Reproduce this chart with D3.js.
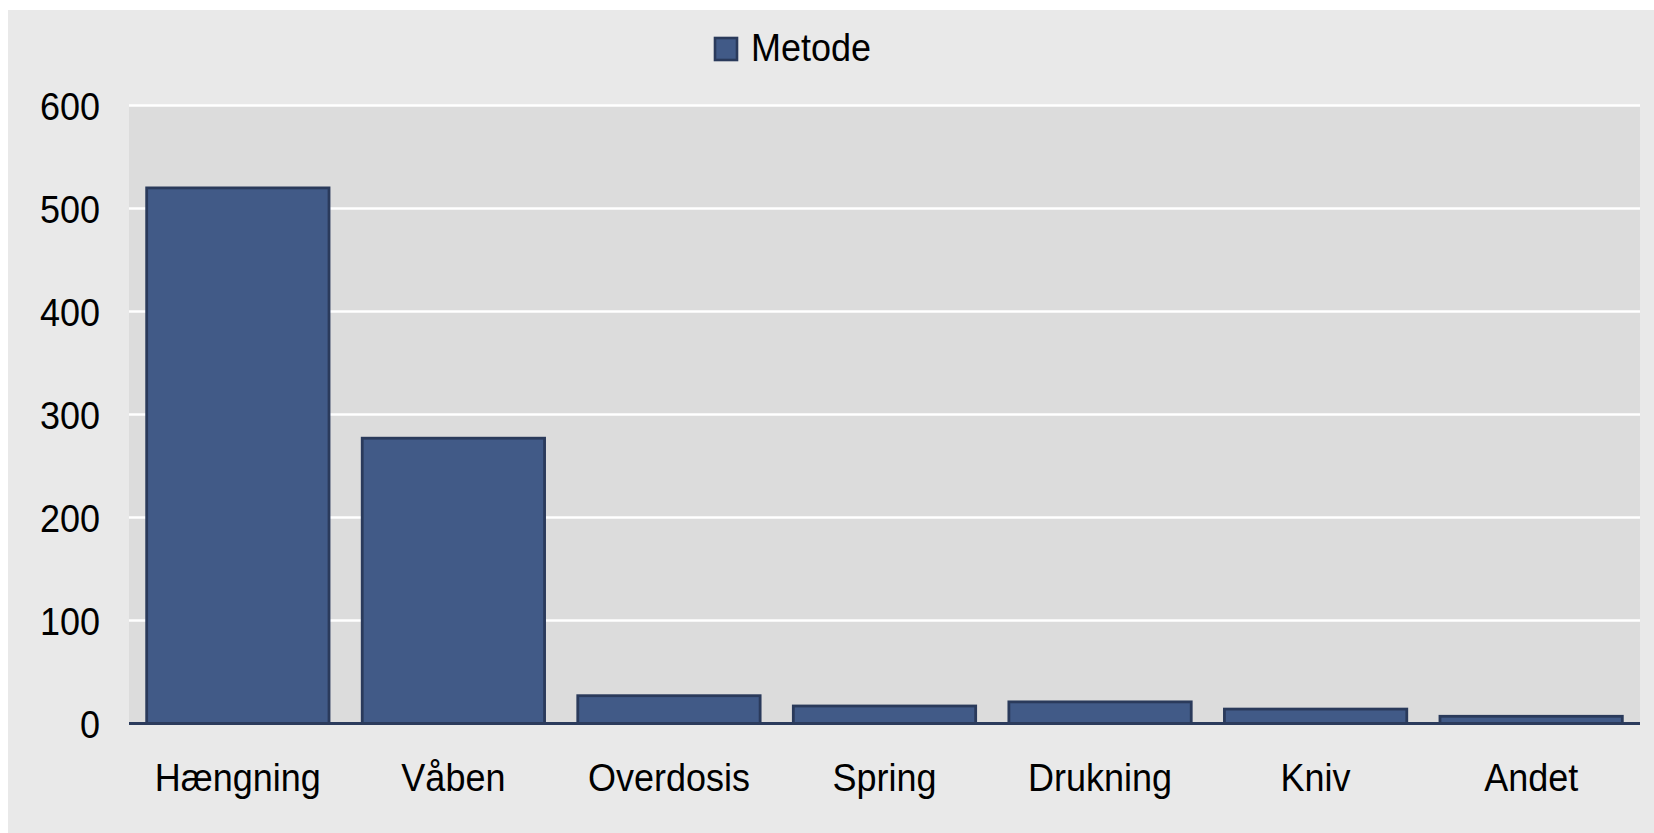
<!DOCTYPE html>
<html>
<head>
<meta charset="utf-8">
<script src="https://cdn.jsdelivr.net/npm/d3@7"></script>
<style>
  html, body { margin: 0; padding: 0; background: #ffffff; }
  svg { display: block; }
  text { font-family: "Liberation Sans", Arial, sans-serif; fill: #000; }
</style>
</head>
<body>
<svg id="chart" width="1654" height="833"></svg>
<script>
const categories = ["Hængning", "Våben", "Overdosis", "Spring", "Drukning", "Kniv", "Andet"];
const values = [520, 277, 27, 17, 21, 14, 7];
const yTicks = [0, 100, 200, 300, 400, 500, 600];
const seriesName = "Metode";

const W = 1654, H = 833;
const plot = { left: 129, right: 1640, top: 105.5, bottom: 723.5 };
const stretch = 1.08;
const svg = d3.select("#chart");

// outer panel
svg.append("rect").attr("x", 8).attr("y", 10).attr("width", W - 8).attr("height", H - 10).attr("fill", "#e9e9e9");
// plot area
svg.append("rect").attr("x", plot.left).attr("y", plot.top)
  .attr("width", plot.right - plot.left).attr("height", plot.bottom - plot.top).attr("fill", "#dcdcdc");

const x = d3.scaleBand().domain(categories).range([plot.left, plot.right]).paddingInner(0.154).paddingOuter(0.082);
const y = d3.scaleLinear().domain([0, 600]).range([plot.bottom, plot.top]);

// gridlines
svg.append("g").selectAll("line").data(yTicks.filter(d => d > 0)).join("line")
  .attr("x1", plot.left).attr("x2", plot.right)
  .attr("y1", d => y(d)).attr("y2", d => y(d))
  .attr("stroke", "#ffffff").attr("stroke-width", 2.6);

// bars
svg.append("g").selectAll("rect").data(values).join("rect")
  .attr("x", (d, i) => x(categories[i]))
  .attr("y", d => y(d))
  .attr("width", x.bandwidth())
  .attr("height", d => y(0) - y(d))
  .attr("fill", "#415a87")
  .attr("stroke", "#2a3a5b")
  .attr("stroke-width", 2.8);

// baseline axis
svg.append("line").attr("x1", plot.left).attr("x2", plot.right)
  .attr("y1", y(0)).attr("y2", y(0)).attr("stroke", "#2b3b5c").attr("stroke-width", 2.8);

// y axis
const yAxis = svg.append("g").attr("transform", `translate(${plot.left},0)`)
  .call(d3.axisLeft(y).tickValues(yTicks).tickSize(0).tickPadding(29).tickFormat(d3.format("d")));
yAxis.select(".domain").remove();
yAxis.selectAll("text").attr("font-size", 36).attr("font-family", "'Liberation Sans', Arial, sans-serif")
  .attr("fill", "#000").attr("dy", "0.36em").attr("transform", `scale(1,${stretch})`);

// x axis
const xAxis = svg.append("g").attr("transform", `translate(0,${plot.bottom})`)
  .call(d3.axisBottom(x).tickSize(0));
xAxis.select(".domain").remove();
xAxis.selectAll("text").attr("font-size", 36).attr("font-family", "'Liberation Sans', Arial, sans-serif")
  .attr("fill", "#000").attr("y", 67.5 / stretch).attr("dy", 0).attr("transform", `scale(1,${stretch})`);

// legend
const lg = svg.append("g");
lg.append("rect").attr("x", 715).attr("y", 38).attr("width", 22).attr("height", 22)
  .attr("fill", "#415a87").attr("stroke", "#2a3a5b").attr("stroke-width", 2.6);
lg.append("text").attr("x", 751).attr("y", 61 / stretch).attr("font-size", 36)
  .attr("transform", `scale(1,${stretch})`).text(seriesName);
</script>
</body>
</html>
